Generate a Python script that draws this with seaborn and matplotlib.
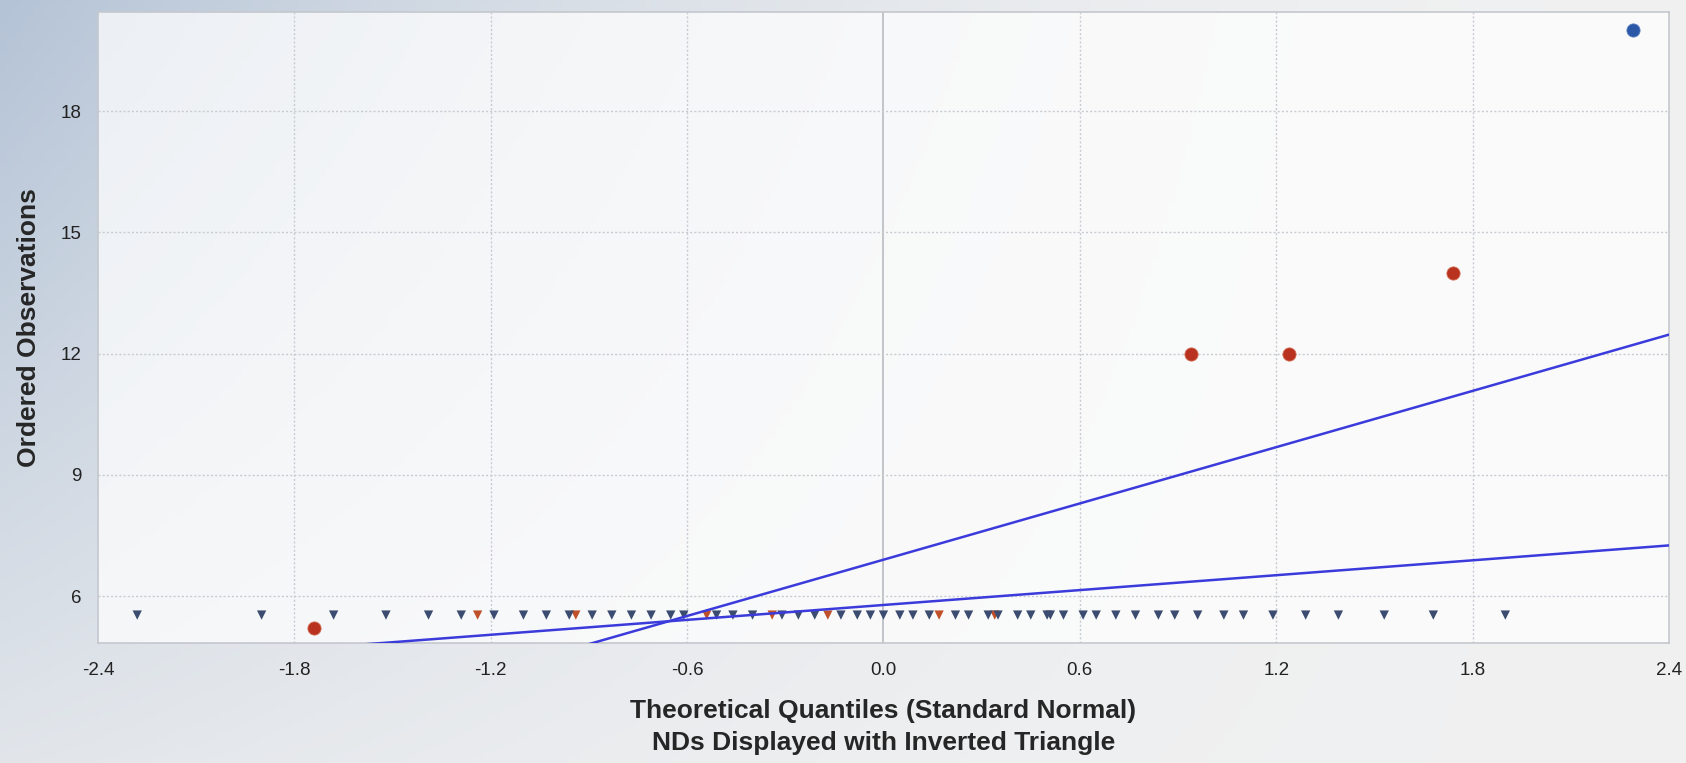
"""
Q-Q plot with nondetects shown as inverted triangles
"""

import numpy as np
import pandas as pd
import matplotlib.pyplot as plt
import seaborn as sns

# detected values (circles)
blue_det_q = [2.29]
blue_det_y = [20.0]
red_det_q = [-1.74, 0.94, 1.24, 1.74]
red_det_y = [5.2, 12.0, 12.0, 14.0]

# nondetects (inverted triangles), all plotted at the same level
nd_level = 5.53
blue_nd_q = [-2.28, -1.90, -1.68, -1.52, -1.39, -1.29, -1.19, -1.10, -1.03, -0.96,
             -0.89, -0.83, -0.77, -0.71, -0.65, -0.61, -0.51, -0.46, -0.40, -0.31,
             -0.26, -0.21, -0.13, -0.08, -0.04, 0.00, 0.05, 0.09, 0.14, 0.22,
             0.26, 0.32, 0.35, 0.41, 0.45, 0.50, 0.51, 0.55, 0.61, 0.65,
             0.71, 0.77, 0.84, 0.89, 0.96, 1.04, 1.10, 1.19, 1.29, 1.39,
             1.53, 1.68, 1.90]
red_nd_q = [-1.24, -0.94, -0.54, -0.34, -0.17, 0.17, 0.34]

# fitted lines (slope, intercept)
line_slope = [2.32, 0.614]
line_intercept = [6.9, 5.78]

x_ticks = [-2.4, -1.8, -1.2, -0.6, 0.0, 0.6, 1.2, 1.8, 2.4]
y_ticks = [6, 9, 12, 15, 18]

sns.set_style('white')
plt.rcParams['font.family'] = ['Liberation Sans', 'DejaVu Sans']

fig = plt.figure(figsize=(16.86, 7.63), dpi=100)

# background gradient (blue-grey at top left fading to near white)
bg = fig.add_axes([0, 0, 1, 1], zorder=-10)
gx, gy = np.meshgrid(np.linspace(0, 1, 300), np.linspace(0, 1, 150))
grad = np.clip((1 - gx) ** 2.2 * (1 - 0.75 * gy), 0, 1)
bg.imshow(grad, cmap=sns.light_palette('#b4c3d6', as_cmap=True), aspect='auto',
          origin='upper', extent=[0, 1, 0, 1], vmin=0, vmax=1.0)
bg.axis('off')

ax = fig.add_axes([0.0581, 0.1573, 0.9318, 0.827])
ax.set_facecolor((1, 1, 1, 0.72))

nd_blue = pd.DataFrame({'q': blue_nd_q, 'y': [nd_level] * len(blue_nd_q)})
nd_red = pd.DataFrame({'q': red_nd_q, 'y': [nd_level] * len(red_nd_q)})
sns.scatterplot(data=nd_red, x='q', y='y', marker='v', s=45, color='#c0502a',
                edgecolor='none', ax=ax, zorder=3)
sns.scatterplot(data=nd_blue, x='q', y='y', marker='v', s=45, color='#3b4c70',
                edgecolor='none', ax=ax, zorder=4)

sns.scatterplot(x=red_det_q, y=red_det_y, marker='o', s=90, color='#b8321f',
                edgecolor='#d06a50', linewidth=0.6, ax=ax, zorder=5)
sns.scatterplot(x=blue_det_q, y=blue_det_y, marker='o', s=90, color='#2a58a6',
                edgecolor='#5a7fbf', linewidth=0.6, ax=ax, zorder=5)

xs = np.array([-2.4, 2.4])
for m, b in zip(line_slope, line_intercept):
    sns.lineplot(x=xs, y=m * xs + b, color='#3b3bdc', linewidth=1.8, ax=ax, zorder=6)

ax.set_xlim(-2.4, 2.4)
ax.set_ylim(4.84, 20.45)
ax.set_xticks(x_ticks)
ax.set_xticklabels([f'{t:.1f}' for t in x_ticks])
ax.set_yticks(y_ticks)
ax.tick_params(axis='both', length=0, labelsize=13.5, colors='#222222')
ax.tick_params(axis='x', pad=14)
ax.tick_params(axis='y', pad=12)

# grid: dotted light lines, solid line at zero
for t in x_ticks[1:-1]:
    if t == 0:
        ax.axvline(t, color='#b8bcc2', linewidth=1.2, zorder=1)
    else:
        ax.axvline(t, color='#c8ccd2', linewidth=1.0, linestyle=(0, (1.5, 1.5)), zorder=1)
for t in y_ticks:
    ax.axhline(t, color='#c8ccd2', linewidth=1.0, linestyle=(0, (1.5, 1.5)), zorder=1)

for s in ax.spines.values():
    s.set_color('#c4c8ce')
    s.set_linewidth(1.2)

ax.set_xlabel('Theoretical Quantiles (Standard Normal)\nNDs Displayed with Inverted Triangle',
              fontsize=19, fontweight='bold', labelpad=14, linespacing=1.45)
ax.set_ylabel('Ordered Observations', fontsize=19, fontweight='bold', labelpad=14)

fig.savefig('out.png', dpi=100)
